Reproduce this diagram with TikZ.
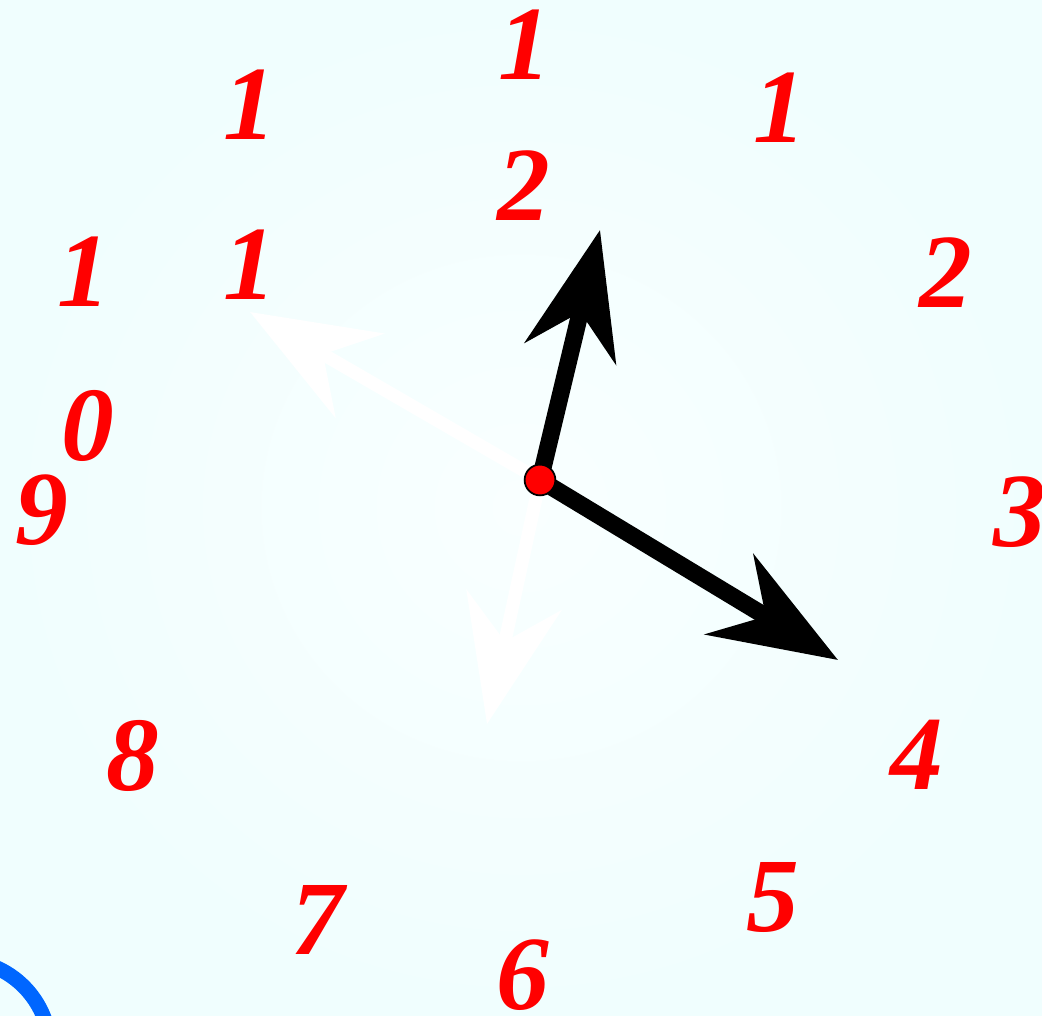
\documentclass[tikz,border=0pt]{standalone}
\usepackage{fontspec}
\setmainfont{Liberation Serif}
\usetikzlibrary{arrows.meta}
\definecolor{numred}{RGB}{255,0,0}
\definecolor{arcblue}{RGB}{0,102,255}
\definecolor{bgin}{RGB}{249,255,255}
\definecolor{bgout}{RGB}{240,254,254}
\begin{document}
\begin{tikzpicture}[x=0.02cm,y=-0.02cm,
  num/.style={text=numred,font=\fontsize{60}{60}\selectfont\bfseries\itshape,inner sep=0pt},
  hand/.style={black,line width=9.8pt,-{Stealth[length=72pt,width=53pt,inset=24pt]}},
  ghost/.style={white,line width=7.4pt,-{Stealth[length=72pt,width=55pt,inset=24pt]}}]
\useasboundingbox (0,0) rectangle (1042,1015);
\clip (0,0) rectangle (1042,1015);
\shade[inner color=bgin,outer color=bgout] (0,0) rectangle (1042,1015);
\draw[arcblue,line width=8.5pt] (-40,1050) circle[radius=90];
% numbers
\node[num] (n12a) at (525,45) {1};
\node[num] (n12b) at (524,186) {2};
\node[num] (n1) at (780,108) {1};
\node[num] (n2) at (946,273) {2};
\node[num] (n3) at (1020,512) {3};
\node[num] (n4) at (917,755) {4};
\node[num] (n5) at (773,897) {5};
\node[num] (n6) at (523,975) {6};
\node[num] (n7) at (318,920) {7};
\node[num] (n8) at (133,756) {8};
\node[num] (n9) at (42,510) {9};
\node[num] (n10a) at (84,272) {1};
\node[num] (n10b) at (88,426) {0};
\node[num] (n11a) at (250,105) {1};
\node[num] (n11b) at (250,265) {1};
% hands
\coordinate (o) at (540,480);
\coordinate (g1) at (250,312);
\coordinate (g2) at (487,724);
\coordinate (h1) at (600,230);
\coordinate (h2) at (838,660);
\draw[ghost] (o) -- (g1);
\draw[ghost] (o) -- (g2);
\draw[hand] (o) -- (h1);
\draw[hand] (o) -- (h2);
\node[circle,fill=red,draw=black,line width=1pt,minimum size=17.5pt,inner sep=0pt] (c) at (o) {};
\end{tikzpicture}
\end{document}
